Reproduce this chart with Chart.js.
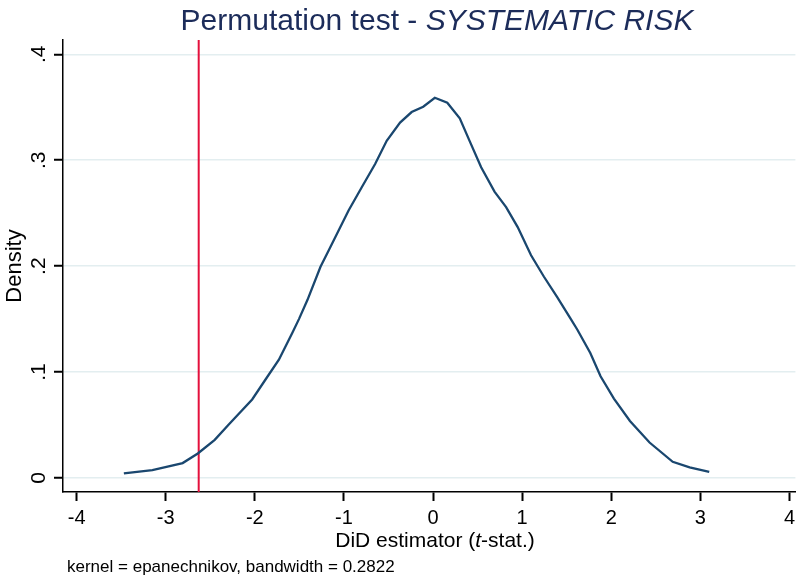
<!DOCTYPE html>
<html>
<head>
<meta charset="utf-8">
<script src="https://cdn.jsdelivr.net/npm/chart.js@4"></script>
<style>
  body { margin: 0; background: #fff; }
  #wrap { position: relative; width: 800px; height: 579px; font-family: "Liberation Sans", Arial, sans-serif; }
  .txt { position: absolute; white-space: nowrap; line-height: 1; }
  #title { left: 437px; top: 5px; transform: translateX(-50%); font-size: 30px; color: #1c2c5a; }
  #xtitle { left: 435px; top: 529px; transform: translateX(-50%); font-size: 21px; color: #000; }
  #note { left: 67px; top: 558px; font-size: 17px; color: #000; }
</style>
</head>
<body>
<div id="wrap">
  <canvas id="chart" width="800" height="579"></canvas>
  <div id="title" class="txt">Permutation test - <i>SYSTEMATIC RISK</i></div>
  <div id="xtitle" class="txt">DiD estimator (<i>t</i>-stat.)</div>
  <div id="note" class="txt">kernel = epanechnikov, bandwidth = 0.2822</div>
</div>
<script>
// kernel density of permuted t-stats
var tStat = [-3.47, -3.15, -2.81, -2.64, -2.45, -2.29, -2.03, -1.88, -1.73, -1.58,
  -1.505, -1.41, -1.263, -1.17, -0.948, -0.80, -0.65, -0.52, -0.37, -0.24,
  -0.11, 0.02, 0.16, 0.30, 0.41, 0.54, 0.69, 0.82, 0.95, 1.10,
  1.245, 1.39, 1.54, 1.62, 1.765, 1.88, 2.03, 2.21, 2.43, 2.69,
  2.88, 3.10];
var density = [0.0044, 0.0075, 0.0141, 0.0232, 0.036, 0.0507, 0.0742, 0.093, 0.1117, 0.1368,
  0.150, 0.168, 0.1994, 0.215, 0.2526, 0.2745, 0.2964, 0.3183, 0.3355, 0.3455,
  0.3505, 0.359, 0.3543, 0.3396, 0.3183, 0.2933, 0.2704, 0.2557, 0.2369, 0.2103,
  0.190, 0.1712, 0.1509, 0.140, 0.118, 0.096, 0.075, 0.0538, 0.0335, 0.0153,
  0.010, 0.0059];

// actual DiD estimate
var observedT = -2.63;

var xTicks = [-4, -3, -2, -1, 0, 1, 2, 3, 4];
var yTicks = [0, 0.1, 0.2, 0.3, 0.4];

var xMin = -4.153, xMax = 4.067;
var yMin = -0.0132, yMax = 0.4135;

var curve = tStat.map(function(t, i) { return { x: t, y: density[i] }; });
var redLine = [{ x: observedT, y: yMin }, { x: observedT, y: yMax }];

var font = { family: '"Liberation Sans", Arial, sans-serif' };

new Chart(document.getElementById('chart'), {
  type: 'scatter',
  data: {
    datasets: [{
      data: curve,
      showLine: true,
      borderColor: '#1a476f',
      borderWidth: 2.3,
      pointRadius: 0,
      tension: 0
    }, {
      data: redLine,
      showLine: true,
      borderColor: '#e4103c',
      borderWidth: 2,
      pointRadius: 0
    }]
  },
  options: {
    responsive: false,
    animation: false,
    layout: { padding: { top: 40, right: 0, bottom: 0, left: 0 } },
    plugins: {
      legend: { display: false },
      title: { display: false },
      tooltip: { enabled: false }
    },
    scales: {
      x: {
        type: 'linear',
        min: xMin,
        max: xMax,
        afterBuildTicks: function(s) { s.ticks = xTicks.map(function(v) { return { value: v }; }); },
        afterFit: function(s) { s.height = 87; },
        ticks: {
          color: '#000',
          font: Object.assign({ size: 20 }, font),
          padding: 5,
          maxRotation: 0,
          callback: function(v) { return String(v); }
        },
        grid: { drawOnChartArea: false, tickLength: 9, tickWidth: 2, tickColor: '#000' },
        border: { display: true, color: '#000', width: 1.5 }
      },
      y: {
        type: 'linear',
        min: yMin,
        max: yMax,
        afterBuildTicks: function(s) { s.ticks = yTicks.map(function(v) { return { value: v }; }); },
        afterFit: function(s) { s.width = 63; },
        ticks: {
          color: '#000',
          font: Object.assign({ size: 21 }, font),
          padding: 6,
          minRotation: 90,
          maxRotation: 90,
          crossAlign: 'center',
          callback: function(v) { return v === 0 ? '0' : v.toFixed(1).replace(/^0/, ''); }
        },
        title: {
          display: true,
          text: 'Density',
          color: '#000',
          font: Object.assign({ size: 22 }, font),
          padding: { top: 2, bottom: 0 }
        },
        grid: { color: '#e3eef0', lineWidth: 1.5, tickLength: 9, tickWidth: 2, tickColor: '#000' },
        border: { display: true, color: '#000', width: 1.5 }
      }
    }
  }
});
</script>
</body>
</html>
